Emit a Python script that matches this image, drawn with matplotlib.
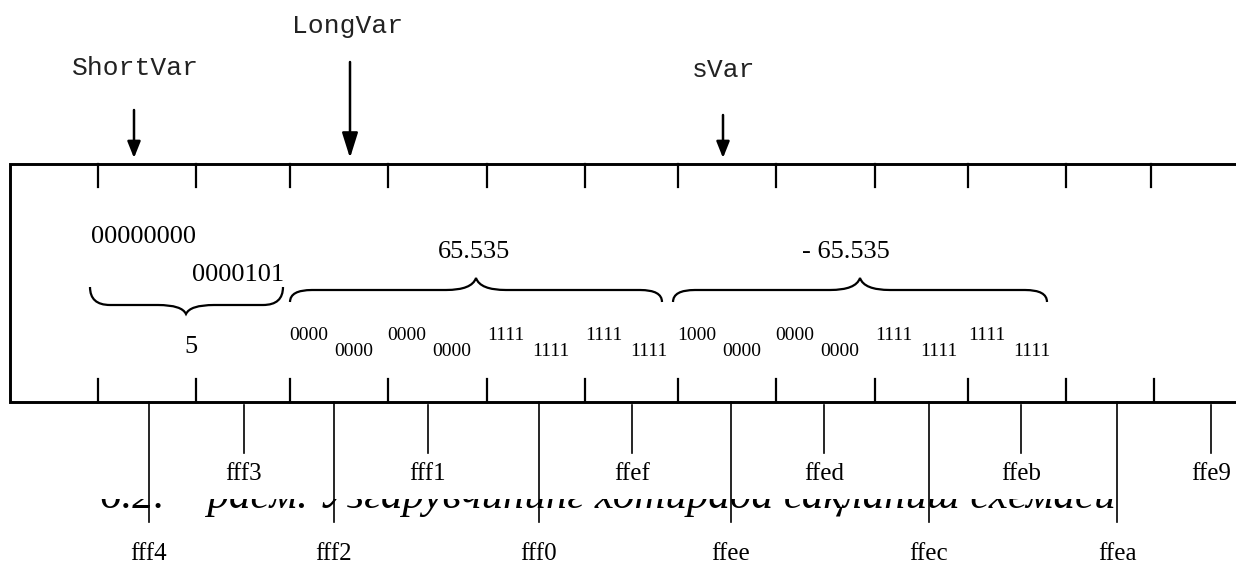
import numpy as np
import matplotlib
matplotlib.use('Agg')
from matplotlib import pyplot as plt
from matplotlib.path import Path
from matplotlib.patches import PathPatch
from matplotlib.transforms import Bbox, TransformedBbox

# Data
var_names = ['ShortVar', 'LongVar', 'sVar']
short_bytes = ['00000000', '0000101']
short_value = '5'
long_value = '65.535'
s_value = '- 65.535'
# nibbles: (high, low) for each byte, 8 bytes
nibbles = [('0000', '0000'), ('0000', '0000'), ('1111', '1111'), ('1111', '1111'),
           ('1000', '0000'), ('0000', '0000'), ('1111', '1111'), ('1111', '1111')]
addresses = ['%x' % a for a in range(0xfff4, 0xffe8, -1)]
caption = '6.2. – расм. Ўзгарувчининг хотирада сақланиш схемаси'

# Layout (pixel coords, y down)
W, H = 1236, 567
box_left, box_top, box_bottom = 10, 164, 402
top_ticks = [98, 196, 290, 388, 487, 585, 678, 776, 875, 968, 1066, 1151]
bot_ticks = [98, 196, 290, 388, 487, 585, 678, 776, 875, 968, 1066, 1154]
addr_x = [149, 244, 334, 428, 539, 632, 731, 824, 929, 1021, 1117, 1211]
arrow_x = [134, 350, 723]
name_pos = [(135, 68), (348, 26), (724, 70)]
arrow_top = [110, 62, 115]

fig = plt.figure(figsize=(W / 100, H / 100), dpi=100)
ax = fig.add_axes([0, 0, 1, 1])
ax.set_xlim(0, W)
ax.set_ylim(H, 0)
ax.axis('off')

serif = 'Liberation Serif'
mono = 'Liberation Mono'

# memory box
ax.plot([W, box_left, box_left, W], [box_top, box_top, box_bottom, box_bottom],
        color='k', lw=2.1, solid_joinstyle='miter')
for x in top_ticks:
    ax.plot([x, x], [box_top, box_top + 23], color='k', lw=1.6)
for x in bot_ticks:
    ax.plot([x, x], [box_bottom - 23, box_bottom], color='k', lw=1.6)

# variable names + arrows
for i, name in enumerate(var_names):
    ax.text(name_pos[i][0], name_pos[i][1], name, family=mono, fontsize=19,
            ha='center', va='center', color='#222222')
    hl = 0.7 if i == 1 else 0.55
    ax.annotate('', xy=(arrow_x[i], box_top - 6), xytext=(arrow_x[i], arrow_top[i]),
                arrowprops=dict(arrowstyle='-|>,head_length=%g,head_width=0.22' % hl,
                                color='k', lw=1.8, shrinkA=0, shrinkB=0,
                                mutation_scale=22 if i == 1 else 18))


def brace(x0, x1, xt, y_end, y_flat, y_tip, r=22, rt=30):
    verts = [(x0, y_end), (x0, y_flat), (x0 + r, y_flat),
             (xt - rt, y_flat),
             (xt - 4, y_flat), (xt, y_tip),
             (xt + 4, y_flat), (xt + rt, y_flat),
             (x1 - r, y_flat),
             (x1, y_flat), (x1, y_end)]
    codes = [Path.MOVETO, Path.CURVE3, Path.CURVE3, Path.LINETO,
             Path.CURVE3, Path.CURVE3, Path.CURVE3, Path.CURVE3,
             Path.LINETO, Path.CURVE3, Path.CURVE3]
    ax.add_patch(PathPatch(Path(verts, codes), fill=False, lw=1.6, color='k'))


# ShortVar content
ax.text(143, 237, short_bytes[0], family=serif, fontsize=19, ha='center', va='center')
ax.text(238, 275, short_bytes[1], family=serif, fontsize=19, ha='center', va='center')
brace(90, 283, 186, 287, 305, 314, r=20, rt=28)
ax.text(191, 347, short_value, family=serif, fontsize=19, ha='center', va='center')

# LongVar / sVar values
brace(290, 662, 476, 302, 290, 278, r=22, rt=30)
ax.text(474, 252, long_value, family=serif, fontsize=19, ha='center', va='center')
brace(673, 1047, 860, 302, 290, 278, r=22, rt=30)
ax.text(846, 252, s_value, family=serif, fontsize=19, ha='center', va='center')

for i, (hi, lo) in enumerate(nibbles):
    left = top_ticks[i + 2]
    ax.text(left + 19, 336, hi, family=serif, fontsize=14, ha='center', va='center')
    ax.text(left + 64, 351, lo, family=serif, fontsize=14, ha='center', va='center')

# caption (cut off at top)
cap = ax.text(100, 508, caption, family=serif, style='italic', fontsize=31,
              ha='left', va='baseline')
cap.set_clip_box(TransformedBbox(Bbox([[0, 499], [W, H]]), ax.transData))
cap.set_clip_on(True)

# address lines and labels
for i, a in enumerate(addresses):
    x = addr_x[i]
    if i % 2 == 0:
        ax.plot([x, x], [box_bottom, 522], color='k', lw=1.2)
        ax.text(x, 554, a, family=serif, fontsize=18, ha='center', va='center')
    else:
        ax.plot([x, x], [box_bottom + 3, 453], color='k', lw=1.2)
        ax.text(x, 474, a, family=serif, fontsize=18, ha='center', va='center')

fig.savefig('out.png', dpi=100)
